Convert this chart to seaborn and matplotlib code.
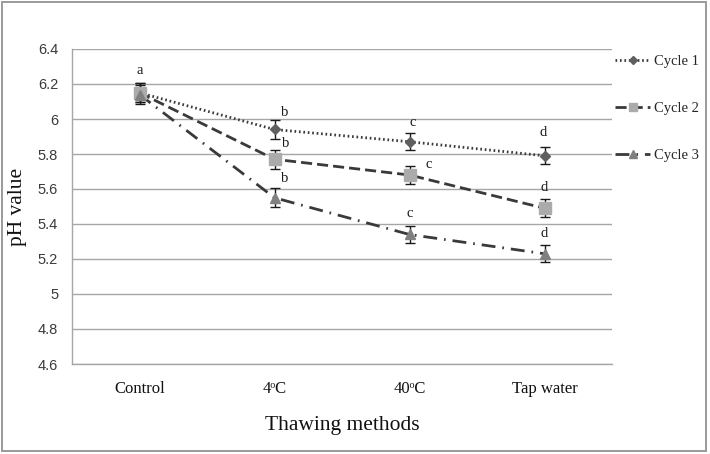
import matplotlib
matplotlib.use("Agg")
import matplotlib.pyplot as plt
import matplotlib.patches as mpatches
import seaborn as sns
import pandas as pd
import numpy as np

# ---- data ----
categories = ["Control", "4\u1d52C", "40\u1d52C", "Tap water"]
series_names = ["Cycle 1", "Cycle 2", "Cycle 3"]
cycle1 = [6.15, 5.94, 5.87, 5.79]
cycle2 = [6.15, 5.77, 5.68, 5.49]
cycle3 = [6.14, 5.55, 5.34, 5.23]
errors = [0.055, 0.055, 0.05, 0.05]
yticks = [4.6, 4.8, 5.0, 5.2, 5.4, 5.6, 5.8, 6.0, 6.2, 6.4]
ytick_labels = ["4.6", "4.8", "5", "5.2", "5.4", "5.6", "5.8", "6", "6.2", "6.4"]
letters_c1 = ["a", "b", "c", "d"]
letters_c2 = ["", "b", "c", "d"]
letters_c3 = ["", "b", "c", "d"]

rows = []
for name, vals in zip(series_names, [cycle1, cycle2, cycle3]):
    for i, (c, v) in enumerate(zip(categories, vals)):
        rows.append({"pos": i, "method": c, "cycle": name, "ph": v})
df = pd.DataFrame(rows)

sns.set_theme(style="white")
plt.rcParams["font.family"] = ["Liberation Serif", "DejaVu Serif"]

fig = plt.figure(figsize=(7.1, 4.54), dpi=100)
ax = fig.add_axes([72 / 710, 1 - 364 / 454, 540 / 710, 315 / 454])

line_colors = {"Cycle 1": "#3a3a3a", "Cycle 2": "#3a3a3a", "Cycle 3": "#3a3a3a"}
marker_colors = {"Cycle 1": "#5f5f5f", "Cycle 2": "#ababab", "Cycle 3": "#808080"}
markers = {"Cycle 1": "D", "Cycle 2": "s", "Cycle 3": "^"}
msizes = {"Cycle 1": 5.5, "Cycle 2": 8, "Cycle 3": 7.5}
dashes = {"Cycle 1": (0.6, 1.0), "Cycle 2": (4, 1.8), "Cycle 3": (5, 2.5, 0.6, 2.5)}

for name, vals in zip(series_names, [cycle1, cycle2, cycle3]):
    sub = df[df["cycle"] == name]
    sns.lineplot(data=sub, x="pos", y="ph", ax=ax, color=line_colors[name],
                 lw=2.0, dashes=False, legend=False, zorder=3)
    ln = ax.lines[-1]
    ln.set_dashes(dashes[name])
    ln.set_dash_capstyle("butt")
    ax.errorbar(sub["pos"], sub["ph"], yerr=errors, fmt="none", ecolor="#1a1a1a",
                elinewidth=1.0, capsize=3.5, capthick=1.0, zorder=4)
    ax.plot(sub["pos"], sub["ph"], linestyle="none", marker=markers[name],
            markersize=msizes[name], markerfacecolor=marker_colors[name],
            markeredgecolor=marker_colors[name], zorder=5)

# significance letters (offsets in pixels)
letter_offsets = {
    "Cycle 1": [(0, 22), (10, 17), (3, 19), (-1, 23)],
    "Cycle 2": [(0, 0), (11, 16), (19, 10), (0, 21)],
    "Cycle 3": [(0, 0), (10, 19), (0, 21), (0, 20)],
}
for name, vals, lets in zip(series_names, [cycle1, cycle2, cycle3],
                            [letters_c1, letters_c2, letters_c3]):
    for i, (v, l) in enumerate(zip(vals, lets)):
        if not l:
            continue
        dx, dy = letter_offsets[name][i]
        ax.annotate(l, (i, v), xytext=(dx, dy), textcoords="offset pixels",
                    ha="center", va="center", fontsize=10.5, color="#1a1a1a")

ax.set_xlim(-0.5, 3.5)
ax.set_ylim(4.6, 6.4)
ax.set_yticks(yticks)
ax.set_yticklabels(ytick_labels, family=["Liberation Sans", "DejaVu Sans"],
                   fontsize=10.5, color="#3a3a3a")
ax.set_xticks(range(len(categories)))
ax.set_xticklabels(categories, fontsize=12, color="#111111")
ax.tick_params(axis="y", length=0, pad=10)
ax.tick_params(axis="x", length=0, pad=12)
ax.yaxis.grid(True, color="#a6a6a6", lw=1.0)
ax.xaxis.grid(False)
for s in ["top", "right"]:
    ax.spines[s].set_visible(False)
for s in ["left", "bottom"]:
    ax.spines[s].set_color("#a6a6a6")
    ax.spines[s].set_linewidth(1.0)
ax.set_xlabel("Thawing methods", fontsize=15.5, color="#111111", labelpad=14)
ax.set_ylabel("pH value", fontsize=15.5, color="#111111", labelpad=8)
ax.set_axisbelow(True)

# legend
from matplotlib.lines import Line2D
handles = []
for name in series_names:
    h = Line2D([0], [0], color=line_colors[name], lw=2.0, marker=markers[name],
               markersize=msizes[name] * 0.8, markerfacecolor=marker_colors[name],
               markeredgecolor=marker_colors[name])
    h.set_dashes(dashes[name])
    handles.append(h)
fig.legend(handles, series_names, loc="upper left",
           bbox_to_anchor=(615 / 710, 1 - 55 / 454), frameon=False,
           fontsize=10.5, handlelength=2.4, handletextpad=0.3,
           labelspacing=2.3, borderpad=0, borderaxespad=0)

# figure border
fig.patches.append(mpatches.Rectangle((2 / 710, 3 / 454), 704 / 710, 449 / 454,
                                      transform=fig.transFigure, fill=False,
                                      edgecolor="#9a9a9a", lw=1.4))

fig.savefig("out.png", dpi=100)
